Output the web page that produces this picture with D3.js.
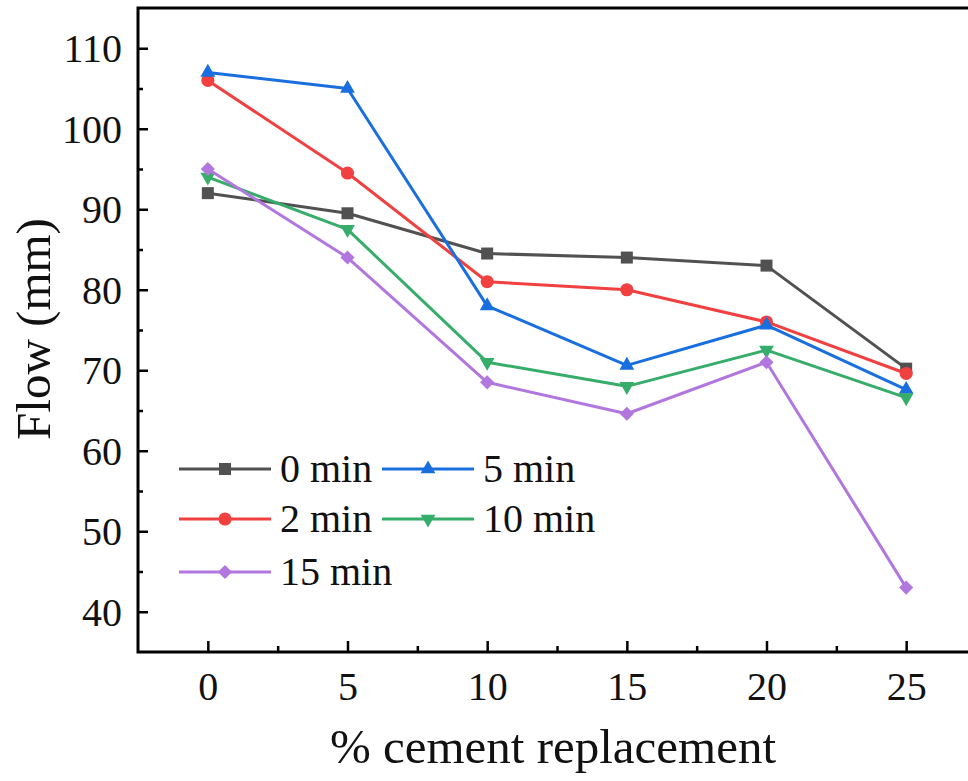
<!DOCTYPE html>
<html>
<head>
<meta charset="utf-8">
<script src="https://cdn.jsdelivr.net/npm/d3@7"></script>
<style>
  body { margin: 0; background: #fff; }
  svg { display: block; }
  text { font-family: "Liberation Serif", "Times New Roman", serif; fill: #111; }
</style>
</head>
<body>
<div id="chart"></div>
<script>
// Data
const replacement = [0, 5, 10, 15, 20, 25];
const seriesNames = ["0 min", "2 min", "5 min", "10 min", "15 min"];
const flow0 = [92, 89.5, 84.5, 84, 83, 70.2];
const flow2 = [106, 94.5, 81, 80, 76, 69.6];
const flow5 = [107, 105, 78, 70.6, 75.6, 67.6];
const flow10 = [94, 87.5, 71, 68, 72.5, 66.6];
const flow15 = [95, 84, 68.5, 64.6, 71, 43];
const yTicks = [40, 50, 60, 70, 80, 90, 100, 110];
const xTicks = [0, 5, 10, 15, 20, 25];

const colors = ["#515151", "#F14040", "#1A6FDF", "#37AD6B", "#B177DE"];
const shapes = ["square", "circle", "triangleUp", "triangleDown", "diamond"];
const allFlows = [flow0, flow2, flow5, flow10, flow15];

const W = 968, H = 781;
const margin = { top: 8, left: 138, bottom: 129 };
const plotRight = 976; // frame's right side falls just outside the picture

const svg = d3.select("#chart").append("svg")
  .attr("width", W)
  .attr("height", H);

const x = d3.scaleLinear().domain([-2.5, 27.5]).range([margin.left, plotRight]);
const y = d3.scaleLinear().domain([35, 115]).range([H - margin.bottom, margin.top]);

// symbol helper
function markerPath(shape) {
  switch (shape) {
    case "square": return d3.symbol(d3.symbolSquare, 144)();
    case "circle": return d3.symbol(d3.symbolCircle, 135)();
    case "triangleUp": return d3.symbol(d3.symbolTriangle, 95)();
    case "triangleDown": return d3.symbol(d3.symbolTriangle, 95)();
    case "diamond": return d3.symbol(d3.symbolSquare, 100)();
  }
}
function markerRotate(shape) {
  if (shape === "triangleDown") return 180;
  if (shape === "diamond") return 45;
  return 0;
}

// Axes (ticks point inside)
const yAxis = d3.axisLeft(y).tickValues(yTicks).tickSize(-10).tickPadding(16).tickFormat(d3.format("d"));
const yAxisMinor = d3.axisLeft(y).tickValues(d3.range(45, 110, 10)).tickSize(-5).tickFormat("");
const xAxis = d3.axisBottom(x).tickValues(xTicks).tickSize(-11).tickPadding(20).tickFormat(d3.format("d"));
const xAxisMinor = d3.axisBottom(x).tickValues(d3.range(2.5, 26, 5)).tickSize(-6).tickFormat("");

function styleAxis(g) {
  g.select(".domain").remove();
  g.selectAll(".tick line").attr("stroke", "#000").attr("stroke-width", 2.5);
  g.selectAll(".tick text").style("font-size", "40px").attr("fill", "#111");
}

svg.append("g").attr("transform", `translate(${margin.left},0)`).call(yAxisMinor).call(styleAxis);
svg.append("g").attr("transform", `translate(${margin.left},0)`).call(yAxis).call(styleAxis)
  .selectAll(".tick text").attr("dy", "0.34em");
svg.append("g").attr("transform", `translate(0,${H - margin.bottom})`).call(xAxisMinor).call(styleAxis);
svg.append("g").attr("transform", `translate(0,${H - margin.bottom})`).call(xAxis).call(styleAxis);

// frame
svg.append("rect")
  .attr("x", margin.left)
  .attr("y", margin.top)
  .attr("width", plotRight - margin.left)
  .attr("height", H - margin.bottom - margin.top)
  .attr("fill", "none")
  .attr("stroke", "#000")
  .attr("stroke-width", 3);

// lines and markers
const line = d3.line().x((d, i) => x(replacement[i])).y(d => y(d));

allFlows.forEach((vals, k) => {
  svg.append("path")
    .datum(vals)
    .attr("fill", "none")
    .attr("stroke", colors[k])
    .attr("stroke-width", 3)
    .attr("stroke-linejoin", "round")
    .attr("d", line);

  svg.selectAll(`.pt-${k}`)
    .data(vals)
    .join("path")
    .attr("class", `pt-${k}`)
    .attr("d", markerPath(shapes[k]))
    .attr("fill", colors[k])
    .attr("transform", (d, i) => `translate(${x(replacement[i])},${y(d)}) rotate(${markerRotate(shapes[k])})`);
});

// legend
const legendPos = [
  { lx: 179, ly: 469 }, { lx: 179, ly: 519 }, { lx: 382, ly: 469 },
  { lx: 382, ly: 519 }, { lx: 179, ly: 572 }
];
const legend = svg.append("g");
seriesNames.forEach((name, k) => {
  const p = legendPos[k];
  const g = legend.append("g").attr("transform", `translate(${p.lx},${p.ly})`);
  g.append("line").attr("x1", 0).attr("x2", 92).attr("y1", 0).attr("y2", 0)
    .attr("stroke", colors[k]).attr("stroke-width", 3);
  g.append("path").attr("d", markerPath(shapes[k])).attr("fill", colors[k])
    .attr("transform", `translate(46,0) rotate(${markerRotate(shapes[k])})`);
  g.append("text").attr("x", 101).attr("y", 13).style("font-size", "40px").text(name);
});

// axis titles
svg.append("text")
  .attr("x", (margin.left + 968) / 2 - 0)
  .attr("y", 763)
  .attr("text-anchor", "middle")
  .style("font-size", "49px")
  .text("% cement replacement");

svg.append("text")
  .attr("transform", `translate(50,${(218 + 440) / 2}) rotate(-90)`)
  .attr("text-anchor", "middle")
  .style("font-size", "49px")
  .text("Flow (mm)");
</script>
</body>
</html>
